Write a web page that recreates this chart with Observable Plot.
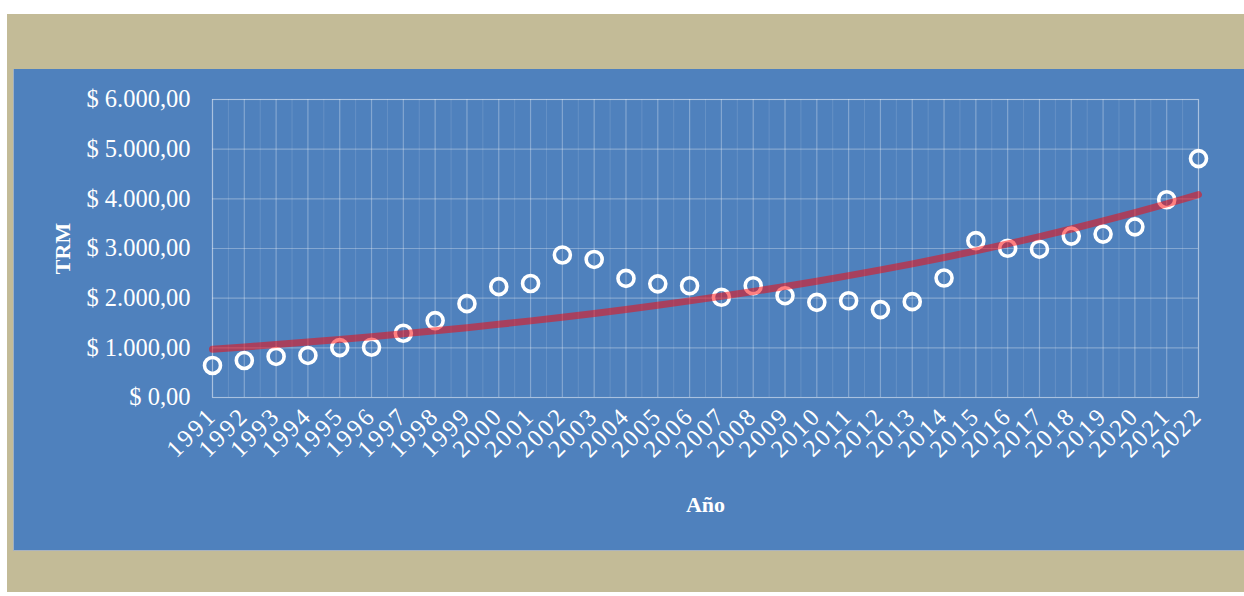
<!DOCTYPE html>
<html>
<head>
<meta charset="utf-8">
<script src="https://cdn.jsdelivr.net/npm/d3@7"></script>
<script src="https://cdn.jsdelivr.net/npm/@observablehq/plot@0.6"></script>
<style>
  html, body { margin: 0; padding: 0; background: #ffffff; }
  #wrap { position: relative; width: 1244px; height: 596px; overflow: hidden; }
  #tan { position: absolute; left: 7px; top: 14px; width: 1237px; height: 578px; background: #c3bb97; }
  #blue { position: absolute; left: 13px; top: 69px; width: 1231px; height: 481px; background: #4f81bd;
          border-left: 1px solid #9fb0c4; border-bottom: 1px solid #a9b3c0; }
  #chart { position: absolute; left: 0; top: 0; }
  #chart g[aria-label="x-axis tick label"] text { letter-spacing: 2.5px; }
</style>
</head>
<body>
<div id="wrap">
  <div id="tan"></div>
  <div id="blue"></div>
  <div id="chart"></div>
</div>
<script>
// Categories (years)
const years = [1991, 1992, 1993, 1994, 1995, 1996, 1997, 1998, 1999, 2000,
               2001, 2002, 2003, 2004, 2005, 2006, 2007, 2008, 2009, 2010,
               2011, 2012, 2013, 2014, 2015, 2016, 2017, 2018, 2019, 2020,
               2021, 2022];
// TRM values
const trm = [645, 746, 827, 847, 1005, 1012, 1294, 1548, 1890, 2232,
             2296, 2870, 2780, 2398, 2288, 2250, 2018, 2250, 2050, 1916,
             1948, 1770, 1930, 2405, 3158, 3004, 2986, 3250, 3290, 3436,
             3982, 4810];
// Y tick values
const yTicks = [0, 1000, 2000, 3000, 4000, 5000, 6000];
const xLabel = "Año";
const yLabel = "TRM";

const data = years.map((year, i) => ({year, value: trm[i]}));

// Exponential trendline (least squares on ln(y)), as a spreadsheet trendline does
const lx = years.map(y => y - years[0]);
const ly = trm.map(v => Math.log(v));
const mx = d3.mean(lx), my = d3.mean(ly);
const b = d3.sum(lx, (x, i) => (x - mx) * (ly[i] - my)) / d3.sum(lx, x => (x - mx) ** 2);
const a = my - b * mx;
const trend = years.map(y => ({year: y, value: Math.exp(a + b * (y - years[0]))}));

const minorX = years.slice(1).map(y => y - 0.5);

const locale = d3.formatLocale({decimal: ",", thousands: ".", grouping: [3], currency: ["$ ", ""]});
const fmt = locale.format("$,.2f");

const chart = Plot.plot({
  width: 1244,
  height: 596,
  marginLeft: 212,
  marginRight: 46,
  marginTop: 99,
  marginBottom: 199,
  style: {background: "transparent", color: "white", fontFamily: "'Liberation Serif', serif", fontSize: "24px"},
  x: {domain: [years[0], years[years.length - 1]], label: null},
  y: {domain: [0, 6000], label: null},
  marks: [
    Plot.gridX(minorX, {stroke: "white", strokeOpacity: 0.13, strokeWidth: 1}),
    Plot.gridX(years, {stroke: "white", strokeOpacity: 0.3, strokeWidth: 1.2}),
    Plot.gridY(yTicks, {stroke: "white", strokeOpacity: 0.3, strokeWidth: 1.2}),
    Plot.frame({stroke: "white", strokeOpacity: 0.3, strokeWidth: 1.2}),
    Plot.axisX(years, {tickSize: 0, tickPadding: 14, tickRotate: -45, tickFormat: d => String(d), fontSize: 24.5, label: null}),
    Plot.axisY(yTicks, {tickSize: 0, tickPadding: 22, tickFormat: fmt, fontSize: 24.5, label: null}),
    Plot.text([yLabel], {frameAnchor: "left", dx: -150, rotate: -90, textAnchor: "middle", lineAnchor: "middle",
                         fontWeight: "bold", fontSize: 22, fill: "white"}),
    Plot.text([xLabel], {frameAnchor: "bottom", dy: 107, textAnchor: "middle", lineAnchor: "middle",
                         fontWeight: "bold", fontSize: 22, fill: "white"}),
    Plot.dot(data, {x: "year", y: "value", r: 8, stroke: "white", strokeWidth: 3.6, fill: "none"}),
    Plot.line(trend, {x: "year", y: "value", stroke: "#ff0000", strokeOpacity: 0.5, strokeWidth: 7, curve: "monotone-x"})
  ]
});
document.getElementById("chart").appendChild(chart);
</script>
</body>
</html>
